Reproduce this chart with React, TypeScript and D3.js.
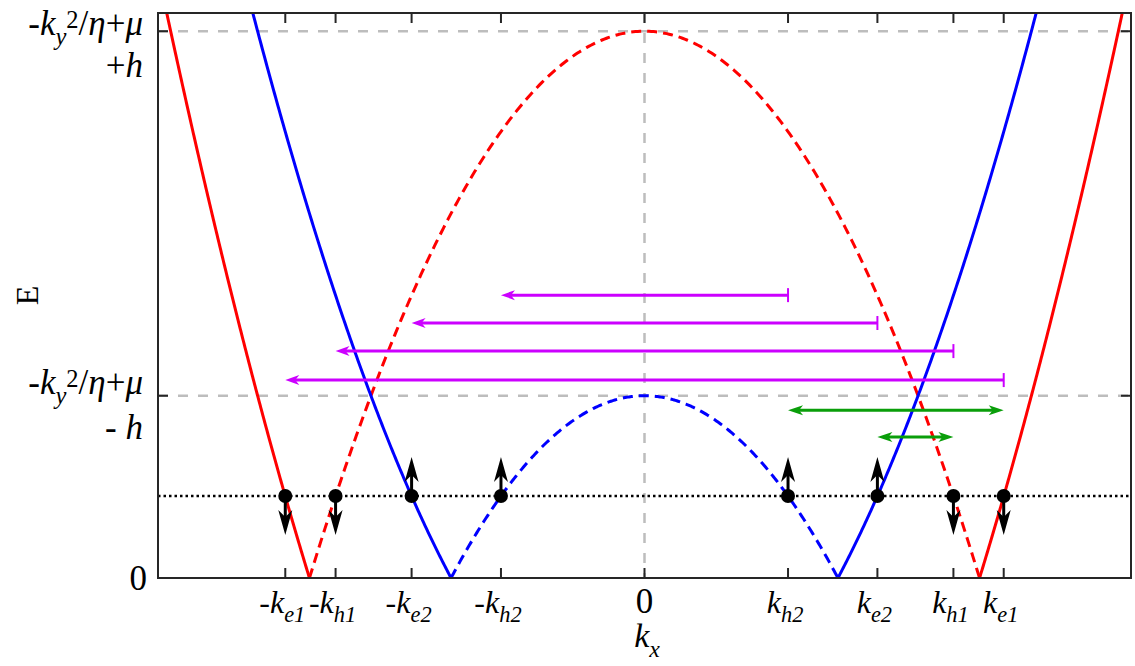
import React from "react";
import * as d3 from "d3";

// Band parameters: energy of each band at k = 0 (in units where E = |Etop - k^2|)
const bandNames = ["outer", "inner"];
const bandTopE = [3, 1]; // -ky^2/η+μ+h , -ky^2/η+μ-h

// Fermi level (dotted line)
const fermiE = 0.45;

// Momentum ticks (crossings of the Fermi level)
const kTickValues = [-1.857, -1.597, -1.204, -0.742, 0, 0.742, 1.204, 1.597, 1.857];
const kTickLabels = ["-ke1", "-kh1", "-ke2", "-kh2", "0", "kh2", "ke2", "kh1", "ke1"];

// Fermi-point spin orientation (+1 up, -1 down)
const crossingK = [-1.857, -1.597, -1.204, -0.742, 0.742, 1.204, 1.597, 1.857];
const crossingSpin = [-1, -1, 1, 1, 1, 1, -1, -1];

// Energy ticks
const eTickValues = [0, 1, 3];

// Pairing arrows (k -> -k')
const pairFromK = [0.742, 1.204, 1.597, 1.857];
const pairToK = [-0.742, -1.204, -1.597, -1.857];
const pairE = [1.552, 1.399, 1.245, 1.086];

// Double-headed arrows between Fermi points
const linkFromK = [0.742, 1.204];
const linkToK = [1.857, 1.597];
const linkE = [0.921, 0.773];

const W = 1135;
const H = 666;
const M = { left: 158, right: 1131, top: 13, bottom: 578 };
const FONT = "'Liberation Serif', 'Times New Roman', serif";
const FS = 32;
const FS_Y = 35;

type Seg = { t: string; i?: boolean; s?: "sub" | "sup" };

function Rich({ segs, x, y, anchor = "middle", size = FS, transform }: { segs: Seg[]; x: number; y: number; anchor?: string; size?: number; transform?: string }) {
  let cur = 0;
  return (
    <text x={x} y={y} textAnchor={anchor} fontFamily={FONT} fontSize={size} fill="#000" transform={transform}>
      {segs.map((sg, idx) => {
        const target = sg.s === "sub" ? 0.28 * size : sg.s === "sup" ? -0.2 * size : 0;
        const dy = target - cur;
        cur = target;
        return (
          <tspan key={idx} dy={dy} fontStyle={sg.i ? "italic" : "normal"} fontSize={sg.s ? size * 0.7 : size}>
            {sg.t}
          </tspan>
        );
      })}
    </text>
  );
}

function kLabelSegs(name: string): Seg[] {
  if (name === "0") return [{ t: "0" }];
  const neg = name.startsWith("-");
  const core = neg ? name.slice(1) : name;
  const segs: Seg[] = [];
  if (neg) segs.push({ t: "-" });
  segs.push({ t: "k", i: true });
  segs.push({ t: core.slice(1), i: true, s: "sub" });
  return segs;
}

// Arrowhead polygon with a notched back, tip at (tx, ty), pointing along (ux, uy)
function headPath(tx: number, ty: number, ux: number, uy: number, len: number, half: number, notch: number) {
  const px = -uy;
  const py = ux;
  const bx = tx - ux * len;
  const by = ty - uy * len;
  const nx = tx - ux * (len - notch);
  const ny = ty - uy * (len - notch);
  return `M${tx},${ty}L${bx + px * half},${by + py * half}L${nx},${ny}L${bx - px * half},${by - py * half}Z`;
}

const yLabelMain: Seg[] = [
  { t: "-" },
  { t: "k", i: true },
  { t: "y", i: true, s: "sub" },
  { t: "2", s: "sup" },
  { t: "/" },
  { t: "η", i: true },
  { t: "+" },
  { t: "μ", i: true },
];

export default function App() {
  const x = d3.scaleLinear().domain([-2.515, 2.515]).range([M.left, M.right]);
  const y = d3.scaleLinear().domain([0, 3.1]).range([M.bottom, M.top]);

  const line = d3
    .line<[number, number]>()
    .x((d) => x(d[0]))
    .y((d) => y(d[1]));

  const bandColors = ["#ff0000", "#0000ff"];

  const bandPaths = bandTopE.map((top, bi) => {
    const k0 = Math.sqrt(top);
    const sample = (a: number, b: number) => {
      const pts: [number, number][] = [];
      const n = 300;
      for (let j = 0; j <= n; j++) {
        const k = a + ((b - a) * j) / n;
        pts.push([k, Math.abs(top - k * k)]);
      }
      return pts;
    };
    return {
      name: bandNames[bi],
      color: bandColors[bi],
      solidL: line(sample(-2.7, -k0)) as string,
      dashed: line(sample(-k0, k0)) as string,
      solidR: line(sample(k0, 2.7)) as string,
    };
  });

  const purple = "#cc00ff";
  const green = "#0a9e0a";
  const axisColor = "#262626";

  return (
    <svg width={W} height={H} style={{ position: "absolute", left: 0, top: 0, background: "#fff" }}>
      <defs>
        <clipPath id="plotClip">
          <rect x={M.left} y={M.top} width={M.right - M.left} height={M.bottom - M.top} />
        </clipPath>
      </defs>
      <rect width={W} height={H} fill="#fff" />

      <g clipPath="url(#plotClip)">
        {/* reference levels */}
        {eTickValues.filter((v) => v > 0).map((v) => (
          <line key={v} x1={M.left} x2={M.right} y1={y(v)} y2={y(v)} stroke="#bdbdbd" strokeWidth={2.5} strokeDasharray="10 10" />
        ))}
        <line x1={x(0)} x2={x(0)} y1={M.top} y2={M.bottom} stroke="#bdbdbd" strokeWidth={2.5} strokeDasharray="10 10" />

        {/* bands */}
        {bandPaths.map((b) => (
          <g key={b.name} fill="none" stroke={b.color} strokeWidth={3}>
            <path d={b.solidL} />
            <path d={b.solidR} />
            <path d={b.dashed} strokeDasharray="10 6" />
          </g>
        ))}

        {/* Fermi level */}
        <line x1={M.left} x2={M.right} y1={y(fermiE)} y2={y(fermiE)} stroke="#000" strokeWidth={2.5} strokeDasharray="2.5 3" />

        {/* pairing arrows */}
        {pairE.map((e, i) => {
          const x1 = x(pairFromK[i]);
          const x2 = x(pairToK[i]);
          const yy = y(e);
          return (
            <g key={"p" + i}>
              <line x1={x1} x2={x2 + 8} y1={yy} y2={yy} stroke={purple} strokeWidth={3} />
              <line x1={x1} x2={x1} y1={yy - 7} y2={yy + 7} stroke={purple} strokeWidth={2} />
              <path d={headPath(x2, yy, -1, 0, 14, 5, 4)} fill={purple} />
            </g>
          );
        })}

        {/* Fermi-point links */}
        {linkE.map((e, i) => {
          const x1 = x(linkFromK[i]);
          const x2 = x(linkToK[i]);
          const yy = y(e);
          return (
            <g key={"g" + i}>
              <line x1={x1 + 8} x2={x2 - 8} y1={yy} y2={yy} stroke={green} strokeWidth={3} />
              <path d={headPath(x1, yy, -1, 0, 15, 5, 4)} fill={green} />
              <path d={headPath(x2, yy, 1, 0, 15, 5, 4)} fill={green} />
            </g>
          );
        })}

        {/* Fermi points with spin */}
        {crossingK.map((k, i) => {
          const cx = x(k);
          const cy = y(fermiE);
          const dir = -crossingSpin[i]; // screen direction
          const tipY = cy + dir * 39;
          return (
            <g key={"s" + i}>
              <line x1={cx} x2={cx} y1={cy} y2={tipY - dir * 16} stroke="#000" strokeWidth={3} />
              <path d={headPath(cx, tipY, 0, dir, 25, 7, 7)} fill="#000" />
              <circle cx={cx} cy={cy} r={7} fill="#000" />
            </g>
          );
        })}
      </g>

      {/* axes box and ticks */}
      <g stroke={axisColor} strokeWidth={2} fill="none">
        <rect x={M.left} y={M.top} width={M.right - M.left} height={M.bottom - M.top} />
        {kTickValues.map((k) => (
          <g key={"kt" + k}>
            <line x1={x(k)} x2={x(k)} y1={M.bottom} y2={M.bottom - 10} />
            <line x1={x(k)} x2={x(k)} y1={M.top} y2={M.top + 10} />
          </g>
        ))}
        {eTickValues.map((v) => (
          <g key={"et" + v}>
            <line x1={M.left} x2={M.left + 10} y1={y(v)} y2={y(v)} />
            <line x1={M.right} x2={M.right - 10} y1={y(v)} y2={y(v)} />
          </g>
        ))}
      </g>

      {/* x tick labels */}
      {kTickValues.map((k, i) => (
        <Rich
          key={"kl" + i}
          segs={kLabelSegs(kTickLabels[i])}
          x={x(k) - (kTickLabels[i] === "0" ? 0 : 3)}
          y={613}
          size={kTickLabels[i] === "0" ? 35 : FS}
        />
      ))}

      {/* y tick labels */}
      <Rich segs={[{ t: "0" }]} x={147} y={y(0) + 12} anchor="end" size={35} />
      <Rich segs={yLabelMain} x={143} y={y(1) - 2} anchor="end" size={FS_Y} />
      <Rich segs={[{ t: "- " }, { t: "h", i: true }]} x={143} y={y(1) + 43} anchor="end" size={FS_Y} />
      <Rich segs={yLabelMain} x={143} y={y(3) + 4} anchor="end" size={FS_Y} />
      <Rich segs={[{ t: "+" }, { t: "h", i: true }]} x={143} y={y(3) + 46} anchor="end" size={FS_Y} />

      {/* axis titles */}
      <Rich segs={[{ t: "k", i: true }, { t: "x", i: true, s: "sub" }]} x={647} y={647} size={34} />
      <Rich segs={[{ t: "E" }]} x={0} y={0} size={32} transform={`translate(38,${(M.top + M.bottom) / 2}) rotate(-90)`} />
    </svg>
  );
}
